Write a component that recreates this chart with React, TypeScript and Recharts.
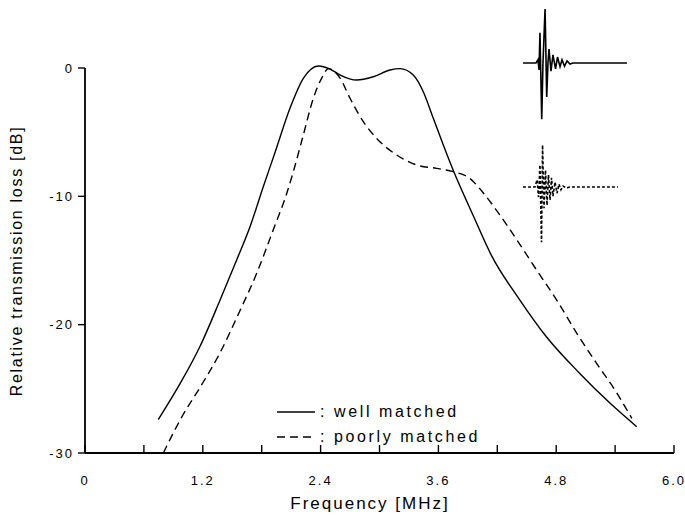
import React from 'react';
import {
  LineChart,
  Line,
  XAxis,
  YAxis,
  Legend,
  Label,
  ReferenceLine
} from 'recharts';

// transmission loss curves (frequency in MHz, loss in dB)
const wellFreq = [0.746, 0.968, 1.171, 1.375, 1.545, 1.681, 1.816, 1.935, 2.088, 2.224, 2.376, 2.496, 2.6, 2.768, 2.937, 3.107, 3.21, 3.344, 3.446, 3.548, 3.65, 3.75, 3.96, 4.14, 4.43, 4.7, 5.04, 5.35, 5.62];
const wellLoss = [-27.4, -24.6, -21.7, -18.1, -14.96, -12.37, -9.25, -6.6, -3.14, -0.81, 0.16, -0.08, -0.55, -0.94, -0.68, -0.16, -0.05, -0.55, -1.85, -3.92, -6.0, -7.95, -11.59, -14.6, -18.08, -20.94, -23.8, -26.13, -27.95];

const poorFreq = [0.798, 1.0, 1.171, 1.375, 1.579, 1.749, 1.918, 2.054, 2.122, 2.224, 2.326, 2.41, 2.48, 2.6, 2.7, 2.835, 2.97, 3.175, 3.38, 3.58, 3.75, 3.92, 4.06, 4.19, 4.4, 4.6, 4.805, 5.01, 5.21, 5.42, 5.57];
const poorLoss = [-30.0, -27.0, -24.9, -22.2, -18.9, -16.0, -12.6, -9.8, -8.08, -5.22, -2.36, -0.81, -0.05, -0.81, -2.36, -4.18, -5.48, -6.78, -7.56, -7.82, -8.08, -8.6, -9.76, -11.07, -13.4, -15.74, -18.08, -20.67, -23.0, -25.35, -27.3];

// inset impulse responses (time in arbitrary units, normalised amplitude)
const wellPulseT = [0, 1.25, 1.44, 1.54, 1.63, 1.8, 1.92, 2.12, 2.28, 2.4, 2.5, 2.69, 2.88, 3.13, 3.32, 3.56, 3.75, 3.99, 4.23, 4.52, 4.81, 10];
const wellPulseA = [0, 0, 0.06, -0.13, 0.56, -1.04, 0, 1.0, -0.63, 0, 0.26, -0.15, 0.15, -0.11, 0.11, -0.07, 0.06, -0.06, 0.04, -0.02, 0, 0];

const poorPulseT = [0, 1.15, 1.35, 1.49, 1.63, 1.78, 1.88, 2.02, 2.16, 2.31, 2.45, 2.6, 2.74, 2.88, 3.08, 3.27, 3.46, 3.65, 3.85, 4.13, 4.52, 9.13];
const poorPulseA = [0, 0, 0.15, -0.21, 0.46, -1.15, 0.875, -0.44, 0.35, -0.38, 0.25, -0.27, 0.19, -0.19, 0.1, -0.13, 0.06, -0.06, 0.02, -0.02, 0, 0];

const xTicks = [0, 0.6, 1.2, 1.8, 2.4, 3.0, 3.6, 4.2, 4.8, 5.4, 6.0];
const xTickLabels = ['0', '', '1.2', '', '2.4', '', '3.6', '', '4.8', '', '6.0'];
const yTicks = [-30, -20, -10, 0];

const seriesNames = ['well matched', 'poorly matched'];
const seriesDash = ['', '8 5'];

const wellData = wellFreq.map((f, i) => ({ f, db: wellLoss[i] }));
const poorData = poorFreq.map((f, i) => ({ f, db: poorLoss[i] }));
const wellPulse = wellPulseT.map((t, i) => ({ t, a: wellPulseA[i] }));
const poorPulse = poorPulseT.map((t, i) => ({ t, a: poorPulseA[i] }));

const FONT = '"Liberation Sans", Arial, sans-serif';

function FreqTick(props: any) {
  const { x, y, payload } = props;
  const idx = xTicks.findIndex((v) => Math.abs(v - payload.value) < 1e-6);
  const label = idx >= 0 ? xTickLabels[idx] : '';
  return (
    <g>
      <line x1={x} y1={y} x2={x} y2={y - 8} stroke="#000" strokeWidth={1.4} />
      {label && (
        <text x={x} y={y + 32} textAnchor="middle" fontFamily={FONT} fontSize={13} letterSpacing={2} fill="#000">
          {label}
        </text>
      )}
    </g>
  );
}

function renderLegend(props: any) {
  const items = (props.payload || [])
    .filter((p: any) => seriesNames.includes(p.value))
    .sort((a: any, b: any) => seriesNames.indexOf(a.value) - seriesNames.indexOf(b.value));
  return (
    <div style={{ fontFamily: FONT, fontSize: 16, letterSpacing: 2.6, color: '#000' }}>
      {items.map((it: any) => {
        const dash = seriesDash[seriesNames.indexOf(it.value)];
        return (
          <div key={it.value} style={{ display: 'flex', alignItems: 'center', height: 25, whiteSpace: 'nowrap' }}>
            <svg width={38} height={6}>
              <line x1={0} y1={3} x2={38} y2={3} stroke="#000" strokeWidth={1.4} strokeDasharray={dash || undefined} />
            </svg>
            <span style={{ marginLeft: 5 }}>: {it.value}</span>
          </div>
        );
      })}
    </div>
  );
}

export default function App() {
  return (
    <div style={{ position: 'absolute', left: 0, top: 0, background: '#fff' }}>
      <LineChart width={685} height={517} margin={{ top: 8, right: 11, bottom: 0, left: 0 }}>
        <XAxis
          dataKey="f"
          type="number"
          domain={[0, 6]}
          ticks={xTicks}
          allowDataOverflow
          height={64}
          stroke="#000"
          strokeWidth={1.8}
          tickLine={false}
          tickSize={0}
          tickMargin={0}
          tick={<FreqTick />}
          interval={0}
        >
          <Label
            content={() => (
              <text x={370} y={509} textAnchor="middle" fontFamily={FONT} fontSize={17} letterSpacing={2} fill="#000">
                Frequency [MHz]
              </text>
            )}
          />
        </XAxis>
        <YAxis
          type="number"
          domain={[-30, 4.675]}
          ticks={yTicks}
          allowDataOverflow
          width={85}
          axisLine={false}
          tickLine={{ stroke: '#000', strokeWidth: 1.4 }}
          tickSize={7}
          tickMargin={4}
          tick={{ fill: '#000', fontFamily: FONT, fontSize: 13, letterSpacing: 2 }}
          interval={0}
        >
          <Label
            content={() => (
              <text
                x={18}
                y={261}
                transform="rotate(-90 18 261)"
                textAnchor="middle"
                dominantBaseline="middle"
                fontFamily={FONT}
                fontSize={16}
                letterSpacing={1.7}
                fill="#000"
              >
                Relative transmission loss [dB]
              </text>
            )}
          />
        </YAxis>
        <XAxis xAxisId="t" type="number" dataKey="t" domain={[-42.12, 14.52]} allowDataOverflow hide />
        <YAxis yAxisId="w1" type="number" domain={[-7.222, 1.0185]} allowDataOverflow hide />
        <YAxis yAxisId="w2" type="number" domain={[-5.542, 3.729]} allowDataOverflow hide />

        <ReferenceLine segment={[{ x: 0, y: -30 }, { x: 0, y: 0 }]} stroke="#000" strokeWidth={1.8} />

        <Line
          data={wellData}
          dataKey="db"
          name={seriesNames[0]}
          type="monotone"
          stroke="#000"
          strokeWidth={1.4}
          dot={false}
          isAnimationActive={false}
        />
        <Line
          data={poorData}
          dataKey="db"
          name={seriesNames[1]}
          type="monotone"
          stroke="#000"
          strokeWidth={1.4}
          strokeDasharray={seriesDash[1]}
          dot={false}
          isAnimationActive={false}
        />
        <Line
          data={wellPulse}
          dataKey="a"
          xAxisId="t"
          yAxisId="w1"
          name="pulse well"
          type="linear"
          stroke="#000"
          strokeWidth={1.6}
          dot={false}
          legendType="none"
          isAnimationActive={false}
        />
        <Line
          data={poorPulse}
          dataKey="a"
          xAxisId="t"
          yAxisId="w2"
          name="pulse poor"
          type="linear"
          stroke="#000"
          strokeWidth={1.6}
          strokeDasharray="3 2"
          dot={false}
          legendType="none"
          isAnimationActive={false}
        />
        <Legend
          layout="vertical"
          align="center"
          verticalAlign="middle"
          content={renderLegend}
          wrapperStyle={{ position: 'absolute', left: 277, top: 399, width: 260 }}
        />
      </LineChart>
    </div>
  );
}
